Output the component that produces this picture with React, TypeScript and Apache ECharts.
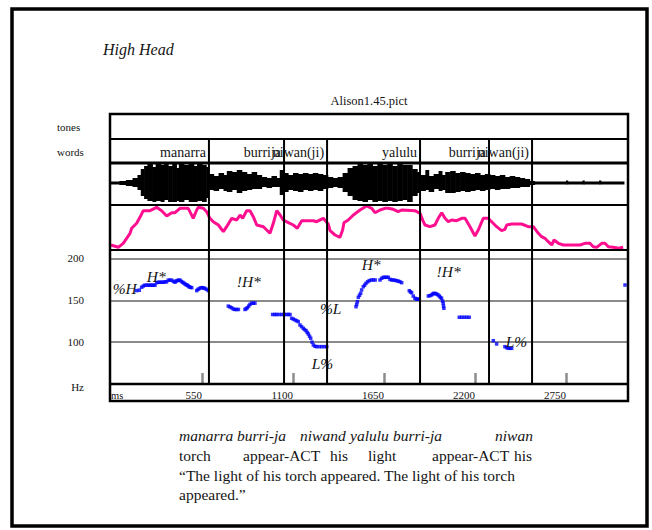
import React, { useEffect, useRef } from 'react';
import * as echarts from 'echarts';

const X_MAX = 3125;
const xTickValues = [550, 1100, 1650, 2200, 2750];
const hzLabels = [100, 150, 200];

// word boundaries (ms) and words (right-aligned to boundary)
const boundaries = [592, 1046, 1306, 1868, 2285, 2545];
const words = ['manarra', 'burrija', 'niwan(ji)', 'yalulu', 'burrija', 'niwan(ji)'];

// waveform envelope: segment start (ms), upper and lower amplitude
const wfStart = [0, 50, 90, 130, 160, 180, 200, 220, 250, 270, 300, 320, 345, 370, 395, 410, 440, 470, 500, 520, 550, 575,
  590, 620, 650, 680, 700, 730, 760, 790, 820, 850, 880, 910, 940, 970, 1000, 1020, 1045, 1070, 1100, 1130, 1160, 1190,
  1220, 1250, 1280, 1310, 1340, 1370, 1400, 1430, 1460, 1490, 1520, 1550, 1580, 1610, 1640, 1670, 1700, 1730, 1760, 1790,
  1820, 1850, 1870, 1900, 1920, 1950, 1980, 2000, 2020, 2050, 2080, 2110, 2140, 2170, 2200, 2230, 2260, 2290, 2320, 2350,
  2380, 2410, 2440, 2470, 2500, 2530, 2560, 2750, 2760, 2850, 2860, 2950, 2960];
const wfHi = [1.5, 2, 3, 5, 8, 14, 17, 19, 16, 19, 18, 19, 17, 19, 15, 19, 18, 19, 17, 19, 18, 16,
  9, 7, 10, 8, 12, 11, 13, 11, 9, 11, 8, 6, 5, 7, 5, 13, 10, 8, 10, 9, 10, 9,
  10, 9, 8, 6, 5, 6, 10, 15, 17, 19, 18, 19, 17, 19, 18, 19, 17, 19, 18, 18,
  14, 11, 8, 13, 7, 9, 12, 8, 11, 12, 10, 11, 10, 9, 10, 8, 9, 8, 7, 8,
  6, 7, 6, 5, 4, 2, 1.5, 2.5, 1.5, 2.5, 1.5, 2.5, 1.5];
const wfLo = [-1.5, -2, -3, -4, -7, -13, -16, -18, -19, -18, -19, -17, -19, -19, -18, -19, -17, -19, -19, -18, -19, -15,
  -7, -8, -6, -8, -9, -7, -10, -8, -7, -6, -6, -4, -5, -4, -4, -12, -9, -7, -8, -9, -7, -8,
  -7, -8, -6, -5, -4, -5, -9, -13, -17, -18, -19, -17, -19, -18, -19, -18, -19, -18, -17, -19,
  -13, -10, -8, -7, -9, -6, -8, -7, -10, -10, -9, -8, -9, -8, -7, -8, -7, -6, -7, -6,
  -6, -5, -5, -4, -4, -2, -1.5, -1.5, -1.5, -1.5, -1.5, -1.5, -1.5];
const WF_END = 3100;

// intensity contour (pink)
const intTime = [0, 44, 74, 115, 125, 155, 175, 195, 236, 276, 306, 337, 367, 387, 417, 467, 477, 497, 518, 528, 558, 578,
  598, 618, 649, 679, 699, 730, 760, 780, 796, 820, 840, 860, 881, 921, 941, 961, 981, 1002, 1022, 1041, 1072, 1102, 1126,
  1153, 1223, 1243, 1283, 1313, 1324, 1354, 1384, 1400, 1408, 1434, 1465, 1505, 1545, 1576, 1596, 1626, 1656, 1676, 1706,
  1736, 1757, 1837, 1868, 1888, 1898, 1928, 1958, 1978, 1999, 2019, 2039, 2059, 2089, 2120, 2140, 2170, 2200, 2220, 2250,
  2280, 2301, 2331, 2361, 2381, 2392, 2422, 2482, 2522, 2553, 2583, 2603, 2623, 2643, 2664, 2678, 2704, 2734, 2835, 2865,
  2895, 2915, 2936, 2966, 2986, 3006, 3036, 3066, 3096];
const intVal = [5, 2.7, 6.7, 16.7, 21.7, 26.7, 32.7, 39.3, 39.3, 42.7, 39.3, 34, 37.3, 37.3, 41.7, 41.7, 38.3, 31.7, 40, 42.7, 41.7, 38.3,
  31.7, 28.3, 25, 18.3, 23.3, 31.7, 30, 35, 31.7, 39.3, 39.3, 33.3, 25, 23.3, 20, 16.7, 26.7, 39.3, 35, 30, 27.3, 25, 21.7,
  29.3, 29.3, 28.3, 31.7, 26, 19.3, 15, 12.7, 20, 27.3, 30, 35, 40, 44, 41.7, 37.3, 40, 41.7, 41.7, 40.7,
  38.3, 40, 39.3, 36.7, 28.3, 25, 23.3, 25, 31.7, 37.3, 31.7, 28.3, 30, 29.3, 31.7, 31.7, 23.3, 14, 20, 31.7,
  31.7, 28.3, 23.3, 19.3, 20.7, 25, 26, 26, 23.3, 23.3, 16.7, 13.3, 11.7, 8.3, 5, 10, 6.7, 5, 5, 6.7,
  6.7, 3.3, 2.7, 6.7, 6.7, 3.3, 2.7, 1.7, 2.7];

// F0 track (Hz)
const f0Time = [155, 171, 185, 195, 205, 216, 226, 236, 246, 256, 266, 276, 286, 296, 306, 316, 326, 336, 346, 356, 367, 377,
  387, 394, 401, 409, 417, 425, 433, 440, 447, 454, 461, 467, 473, 480, 488, 518, 526, 534, 544, 554, 561, 568, 578, 588,
  709, 719, 729, 739, 749, 759, 770, 810, 817, 824, 832, 840, 850, 860, 870,
  977, 990, 1001, 1016, 1032, 1047, 1062, 1072, 1082, 1092, 1102, 1112, 1122, 1132, 1142, 1152, 1162, 1170, 1179, 1186,
  1193, 1200, 1207, 1215, 1223, 1233, 1243, 1258, 1274, 1289, 1304,
  1481, 1485, 1489, 1495, 1502, 1509, 1515, 1525, 1533, 1541, 1551, 1561, 1573, 1585, 1597, 1626, 1636, 1646, 1656, 1666,
  1676, 1686, 1696, 1706, 1716, 1726, 1736, 1746, 1757, 1803, 1810, 1817, 1827, 1837, 1844, 1851, 1857, 1863,
  1918, 1928, 1938, 1945, 1952, 1960, 1968, 1976, 1984, 1991, 1998, 2004, 2008, 2010, 2012,
  2105, 2120, 2135, 2150, 2165,
  2311, 2331, 2381, 2391, 2401, 2411, 2422,
  3107];
const f0Hz = [161.5, 162, 165.5, 167, 168, 168, 168, 168, 168, 168, 168, 171, 171.5, 171.5, 171.5, 171.5, 172, 172, 174, 174, 174, 172.5,
  171.5, 173, 173.5, 174, 174, 172.5, 171.5, 170.5, 169.5, 168.5, 168, 167, 166, 165.5, 165, 161.5, 163, 164, 165, 165, 164.5, 164, 163, 161.5,
  143, 142, 141, 139.5, 139, 139, 139, 139, 140, 141, 143, 145, 146.5, 146.5, 146.5,
  133, 133, 133, 133, 133, 133, 133, 133, 133, 128.5, 127.5, 126.5, 125.5, 124.5, 120.5, 118.5, 116.5, 115, 113.7, 111.5,
  109.7, 107, 104.6, 100, 96.6, 95, 94.6, 94.6, 94.6, 94.6, 94.6,
  142.3, 145, 148.3, 153.5, 156, 158.3, 162.3, 166.2, 168, 170.2, 172, 173.4, 174.2, 174.2, 174.2, 174.2, 176.2, 177.4, 177.4, 177.4,
  177.4, 175, 174.2, 174.2, 173.8, 173.4, 172.8, 172.2, 171, 161.4, 160, 159, 155, 152.4, 151.5, 151.2, 151.2, 151.2,
  155.1, 155.5, 156.3, 157.5, 158.3, 158, 157.5, 156.5, 155.1, 153.5, 152.4, 149, 146.4, 143, 140.4,
  129.7, 129.7, 129.7, 129.7, 129.7,
  101.7, 97.8, 94.6, 93.5, 92.6, 92.6, 92.6,
  168.2];

// tone labels
const toneLabels = ['%H', 'H*', '!H*', '%L', 'L%', 'H*', '!H*', 'L%'];
const toneTime = [10, 216, 760, 1263, 1213, 1515, 1968, 2386];
const toneHz = [164.3, 178.1, 172.2, 140.4, 73.9, 192.1, 184.1, 100.5];

// gloss lines
const glossWords1 = ['manarra', 'burri-ja', 'niwand', 'yalulu', 'burri-ja', 'niwan'];
const glossX1 = [179, 237, 300, 350, 393, 495];
const glossWords2 = ['torch', 'appear-ACT', 'his', 'light', 'appear-ACT', 'his'];
const glossX2 = [179, 243, 330, 368, 432, 514];
const translation1 = '\u201CThe light of his torch appeared. The light of his torch';
const translation2 = 'appeared.\u201D';

const SERIF = '"Liberation Serif", "Times New Roman", serif';
const INK = '#141414';

function txt(text: string, x: number, y: number, size: number, opts: any = {}) {
  const align = opts.align || 'left';
  return {
    type: 'text',
    z: 100,
    style: {
      text, x, y,
      fill: INK,
      fontSize: size,
      fontFamily: SERIF,
      fontStyle: opts.italic ? 'italic' : 'normal',
      align, textAlign: align,
      verticalAlign: 'middle', textVerticalAlign: 'middle',
    },
  };
}

function hline(y: number, w: number) {
  return { type: 'line', z: 100, shape: { x1: 110, y1: y, x2: 628, y2: y }, style: { stroke: '#000', lineWidth: w } };
}

function buildOption() {
  const wfData = wfStart.map((s, i) => [s, i + 1 < wfStart.length ? wfStart[i + 1] : WF_END, wfHi[i], wfLo[i]]);
  const intData = intTime.map((t, i) => [t, intVal[i]]);
  const f0Data = f0Time.map((t, i) => [t, f0Hz[i]]);
  const toneData = toneTime.map((t, i) => [t, toneHz[i], i]);
  const wordData = boundaries.map((b, i) => [b, i]);

  const gridBase = { left: 111, width: 517 };
  const hiddenX = (gi: number) => ({
    type: 'value', gridIndex: gi, min: 0, max: X_MAX, show: false,
  });

  const graphics: any[] = [
    { type: 'rect', z: 100, shape: { x: 12, y: 9, width: 635, height: 517 }, style: { fill: 'none', stroke: '#000', lineWidth: 3.5 } },
    { type: 'rect', z: 100, shape: { x: 110, y: 114, width: 518, height: 287 }, style: { fill: 'none', stroke: '#000', lineWidth: 2.5 } },
    hline(139, 2), hline(163, 3), hline(205, 2), hline(250, 2), hline(384, 2.5),
    txt('High Head', 103, 49, 16, { italic: true }),
    txt('Alison1.45.pict', 369, 101, 12.5, { align: 'center' }),
    txt('tones', 57, 127, 11),
    txt('words', 57, 152, 11),
    txt('Hz', 84, 387, 11, { align: 'right' }),
    txt('ms', 111, 395, 10.5),
  ];
  glossWords1.forEach((w, i) => graphics.push(txt(w, glossX1[i], 435, 15.5, { italic: true })));
  glossWords2.forEach((w, i) => graphics.push(txt(w, glossX2[i], 455, 15.5)));
  graphics.push(txt(translation1, 179, 475, 15.5));
  graphics.push(txt(translation2, 179, 494, 15.5));

  return {
    animation: false,
    backgroundColor: '#fff',
    grid: [
      { ...gridBase, top: 139, height: 245 },
      { ...gridBase, top: 163, height: 42 },
      { ...gridBase, top: 205, height: 45 },
      { ...gridBase, top: 250, height: 134 },
    ],
    xAxis: [
      hiddenX(0), hiddenX(1), hiddenX(2),
      {
        type: 'value', gridIndex: 3, min: 0, max: X_MAX, interval: 550,
        axisLine: { show: false },
        axisTick: { show: true, inside: true, length: 11, customValues: xTickValues, lineStyle: { color: '#8c8c8c', width: 2.5 } },
        axisLabel: {
          show: true, customValues: xTickValues, align: 'right', margin: 5,
          fontSize: 11, fontFamily: SERIF, color: INK,
          formatter: (v: number) => (xTickValues.indexOf(v) >= 0 ? String(v) : ''),
        },
        splitLine: { show: false },
      },
    ],
    yAxis: [
      { type: 'value', gridIndex: 0, min: 0, max: 1, show: false },
      { type: 'value', gridIndex: 1, min: -22, max: 20, show: false },
      { type: 'value', gridIndex: 2, min: 0, max: 45, show: false },
      {
        type: 'value', gridIndex: 3, min: 50, max: 210, interval: 50,
        axisLine: { show: false }, axisTick: { show: false },
        axisLabel: {
          margin: 27, fontSize: 11, fontFamily: SERIF, color: INK,
          formatter: (v: number) => (hzLabels.indexOf(v) >= 0 ? String(v) : ''),
        },
        splitLine: { show: true, lineStyle: { color: '#8a8a8a', width: 2.2 } },
      },
    ],
    series: [
      {
        type: 'custom', name: 'waveform', xAxisIndex: 1, yAxisIndex: 1,
        data: wfData, encode: { x: [0, 1], y: [2, 3] }, clip: true,
        renderItem: (params: any, api: any) => {
          const a = api.coord([api.value(0), api.value(2)]);
          const b = api.coord([api.value(1), api.value(3)]);
          return { type: 'rect', shape: { x: a[0], y: a[1], width: b[0] - a[0] + 0.6, height: b[1] - a[1] }, style: { fill: '#000' } };
        },
      },
      {
        type: 'line', name: 'intensity', xAxisIndex: 2, yAxisIndex: 2, data: intData,
        symbol: 'none', lineStyle: { color: '#ff0f8f', width: 3 }, z: 3,
      },
      {
        type: 'scatter', name: 'F0', xAxisIndex: 3, yAxisIndex: 3, data: f0Data,
        symbol: 'rect', symbolSize: 3.5, itemStyle: { color: '#0000ff' },
      },
      {
        type: 'custom', name: 'tones', xAxisIndex: 3, yAxisIndex: 3, data: toneData,
        renderItem: (params: any, api: any) => {
          const p = api.coord([api.value(0), api.value(1)]);
          return {
            type: 'text', x: p[0], y: p[1],
            style: { text: toneLabels[api.value(2)], fill: INK, fontSize: 15.5, fontFamily: SERIF, fontStyle: 'italic', align: 'left', verticalAlign: 'middle' },
          };
        },
        z: 5,
      },
      {
        type: 'custom', name: 'boundaries', xAxisIndex: 0, yAxisIndex: 0, data: boundaries.map((b) => [b]),
        renderItem: (params: any, api: any) => {
          const top = api.coord([api.value(0), 1]);
          const bot = api.coord([api.value(0), 0]);
          return { type: 'line', shape: { x1: top[0], y1: top[1], x2: bot[0], y2: bot[1] }, style: { stroke: '#000', lineWidth: 2 } };
        },
        z: 6,
      },
      {
        type: 'custom', name: 'words', xAxisIndex: 0, yAxisIndex: 0, data: wordData,
        renderItem: (params: any, api: any) => {
          const p = api.coord([api.value(0), 1]);
          return {
            type: 'text', x: p[0] - 3, y: p[1] + 13,
            style: { text: words[api.value(1)], fill: INK, fontSize: 14, fontFamily: SERIF, align: 'right', verticalAlign: 'middle' },
          };
        },
        z: 6,
      },
    ],
    graphic: graphics,
  };
}

export default function App() {
  const ref = useRef<HTMLDivElement>(null);
  useEffect(() => {
    document.body.style.margin = '0';
    const chart = echarts.init(ref.current as HTMLDivElement, undefined, { renderer: 'svg', width: 652, height: 530 });
    chart.setOption(buildOption() as any);
    return () => chart.dispose();
  }, []);
  return <div ref={ref} style={{ width: 652, height: 530, position: 'absolute', left: 0, top: 0, background: '#fff' }} />;
}
